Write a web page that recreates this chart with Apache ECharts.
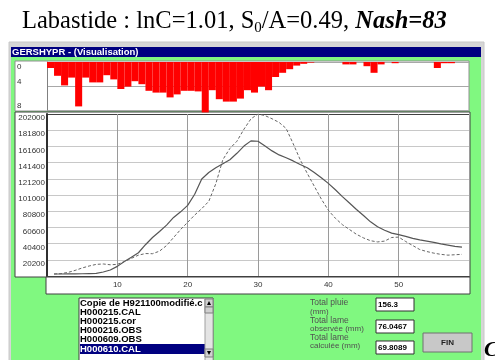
<!DOCTYPE html>
<html>
<head>
<meta charset="utf-8">
<title>GERSHYPR</title>
<script src="https://cdn.jsdelivr.net/npm/echarts@6/dist/echarts.min.js"></script>
<style>
  html, body { margin: 0; padding: 0; background: #fff; }
  #chart { width: 495px; height: 360px; }
</style>
</head>
<body>
<div id="chart"></div>
<script>
// time steps (hours)
var hours = [1,2,3,4,5,6,7,8,9,10,11,12,13,14,15,16,17,18,19,20,
             21,22,23,24,25,26,27,28,29,30,31,32,33,34,35,36,37,38,39,40,
             41,42,43,44,45,46,47,48,49,50,51,52,53,54,55,56,57,58,59,60];

// rainfall (mm) per step
var rain = [1.0,2.3,3.9,2.6,7.4,2.6,3.4,3.4,2.2,2.9,
            4.5,4.1,3.2,3.7,4.8,5.1,5.1,5.9,5.4,4.8,
            4.8,4.9,8.4,4.7,6.2,6.6,6.6,6.1,4.7,5.1,
            4.1,4.7,2.5,1.8,1.2,0.6,0.3,0.1,0,0,
            0,0,0.4,0.4,0,0.7,1.8,0.4,0,0.2,
            0,0,0,0,0,1.0,0.2,0.2,0,0];

// calculated discharge (solid)
var calcFlow = [2500,2500,2600,2700,2800,3000,3200,5000,7500,12000,
                18000,23500,29000,39000,48000,55500,63500,73000,80000,88000,
                102000,121000,129000,135000,140000,145000,153000,162000,168500,168000,
                162000,156000,151000,147500,143500,139000,135000,129000,122500,115500,
                107500,99000,91000,83000,75500,67500,61500,57000,53500,51500,
                49500,47000,45000,43500,42000,40000,38500,37000,36000];

// observed discharge (dashed)
var obsFlow = [2500,3000,4500,7000,10000,12500,14500,15000,14000,14500,
               18000,22000,26000,28000,27800,31000,38000,48000,58000,67000,
               76000,84000,93000,115000,145000,159000,168000,183000,196000,202000,
               200000,196000,191500,184000,165000,145000,128000,112000,96000,82000,
               72000,64000,58000,52000,47500,44000,42500,43500,48000,48500,
               43000,38000,33000,30500,28500,27000,26000,26500,27000];

var files = ['Copie de H921100modifié.c', 'H000215.CAL', 'H000215.cor',
             'H000216.OBS', 'H000609.OBS', 'H000610.CAL'];
var totalLabels = [['Total pluie', '(mm)'], ['Total lame', 'observée (mm)'], ['Total lame', 'calculée (mm)']];
var totalValues = ['156.3', '76.0467', '69.8089'];

var SANS = '"Liberation Sans", Arial, sans-serif';

function pairs(vals){
  var out = [];
  for (var i = 0; i < vals.length; i++) out.push([hours[i], vals[i]]);
  return out;
}

// window chrome, list box, fields, button
var g = [];
g.push({type: 'rect', z: -5, shape: {x: 9, y: 42, width: 475, height: 320}, style: {fill: '#d6d6d6', stroke: '#c8c8c8'}});
g.push({type: 'rect', z: -4, shape: {x: 11, y: 47, width: 470, height: 10}, style: {fill: '#000080'}});
g.push({type: 'text', z: -3, style: {text: 'GERSHYPR - (Visualisation)', x: 12, y: 52, verticalAlign: 'middle', font: 'bold 9.5px ' + SANS, fill: '#fff'}});
g.push({type: 'rect', z: -4, shape: {x: 11, y: 57, width: 470, height: 305}, style: {fill: '#80f880'}});
g.push({type: 'rect', z: -3, shape: {x: 15, y: 61, width: 454, height: 50}, style: {fill: '#fff', stroke: '#909090'}});
g.push({type: 'rect', z: -3, shape: {x: 15, y: 112, width: 455, height: 165}, style: {fill: '#fff', stroke: '#404040'}});
g.push({type: 'rect', z: -3, shape: {x: 46, y: 277, width: 424, height: 17}, style: {fill: '#fff', stroke: '#404040'}});

// list box
g.push({type: 'rect', shape: {x: 79, y: 298, width: 134, height: 64}, style: {fill: '#fff', stroke: '#404040'}});
g.push({type: 'rect', shape: {x: 80, y: 344, width: 125, height: 10}, style: {fill: '#000080'}});
for (var i = 0; i < files.length; i++){
  g.push({type: 'text', style: {text: files[i], x: 80, y: 303 + i * 9.2, verticalAlign: 'middle',
          font: 'bold 9.5px ' + SANS, fill: i === 5 ? '#fff' : '#000'}});
}
g.push({type: 'rect', shape: {x: 205, y: 299, width: 8, height: 62}, style: {fill: '#e4e4e4', stroke: '#a0a0a0'}});
g.push({type: 'rect', shape: {x: 205, y: 299, width: 8, height: 8}, style: {fill: '#d0d0d0', stroke: '#808080'}});
g.push({type: 'polygon', shape: {points: [[207, 305], [211, 305], [209, 301]]}, style: {fill: '#000'}});
g.push({type: 'rect', shape: {x: 205, y: 307, width: 8, height: 6}, style: {fill: '#d0d0d0', stroke: '#808080'}});
g.push({type: 'rect', shape: {x: 205, y: 349, width: 8, height: 8}, style: {fill: '#d0d0d0', stroke: '#808080'}});
g.push({type: 'polygon', shape: {points: [[207, 351], [211, 351], [209, 355]]}, style: {fill: '#000'}});

// totals
var boxTops = [298, 320, 341];
for (var k = 0; k < 3; k++){
  var yy = 303 + k * 17.2;
  g.push({type: 'text', style: {text: totalLabels[k][0], x: 310, y: yy, verticalAlign: 'middle', font: '8.5px ' + SANS, fill: '#505050'}});
  g.push({type: 'text', style: {text: totalLabels[k][1], x: 310, y: yy + 8.5, verticalAlign: 'middle', font: '8px ' + SANS, fill: '#505050'}});
  g.push({type: 'rect', shape: {x: 376, y: boxTops[k], width: 38, height: 13}, style: {fill: '#fff', stroke: '#303030'}});
  g.push({type: 'text', style: {text: totalValues[k], x: 378, y: boxTops[k] + 6.5, verticalAlign: 'middle', font: 'bold 8px ' + SANS, fill: '#000'}});
}

// FIN button
g.push({type: 'rect', shape: {x: 423, y: 333, width: 49, height: 19}, style: {fill: '#c8c8c8', stroke: '#707070'}});
g.push({type: 'text', style: {text: 'FIN', x: 447.5, y: 342.5, align: 'center', verticalAlign: 'middle', font: 'bold 8px ' + SANS, fill: '#202020'}});
g.push({type: 'text', style: {text: 'C', x: 484, y: 350, verticalAlign: 'middle', font: 'italic bold 22px "Liberation Serif", serif', fill: '#000'}});

var splitColors = ['#c8c8c8','#c8c8c8','#c8c8c8','#c8c8c8','#c8c8c8','#c8c8c8',
                   '#c8c8c8','#c8c8c8','#c8c8c8','#c8c8c8','#404040'];

var chart = echarts.init(document.getElementById('chart'));
chart.setOption({
  animation: false,
  backgroundColor: '#fff',
  title: {
    text: 'Labastide : lnC=1.01, S{sub|0}/A=0.49, {b|Nash=83}',
    left: 17, top: 3,
    textStyle: {
      fontFamily: '"Liberation Serif", serif', fontSize: 24.5, fontWeight: 'normal', color: '#000', lineHeight: 28,
      rich: {
        sub: {fontFamily: '"Liberation Serif", serif', fontSize: 15, lineHeight: 15, verticalAlign: 'bottom', color: '#000'},
        b: {fontFamily: '"Liberation Serif", serif', fontSize: 24.5, fontWeight: 'bold', fontStyle: 'italic', color: '#000'}
      }
    }
  },
  graphic: g,
  grid: [
    {left: 47, top: 62, width: 422, height: 48},
    {left: 47, top: 114, width: 422, height: 162}
  ],
  xAxis: [
    {type: 'category', gridIndex: 0, data: hours, boundaryGap: true,
     axisLine: {show: false}, axisTick: {show: false}, axisLabel: {show: false}, splitLine: {show: false}},
    {type: 'value', gridIndex: 1, min: 0, max: 60, interval: 10,
     axisLine: {show: true, lineStyle: {color: '#404040', width: 1}},
     axisTick: {show: false},
     axisLabel: {fontSize: 8, color: '#333', fontFamily: SANS, margin: 5,
                 formatter: function(v){ return (v > 0 && v < 60) ? v : ''; }},
     splitLine: {show: true, lineStyle: {color: '#9a9a9a', width: 1}}}
  ],
  yAxis: [
    {type: 'value', gridIndex: 0, inverse: true, min: 0, max: 8, interval: 4,
     axisLine: {show: true, lineStyle: {color: '#808080'}},
     axisTick: {show: false},
     axisLabel: {margin: 30, align: 'left', color: '#333',
                 formatter: function(v){ return v === 0 ? '{t|0}' : '{b|' + v + '}'; },
                 rich: {t: {fontSize: 8, fontFamily: SANS, color: '#333', padding: [10, 0, 0, 0]},
                        b: {fontSize: 8, fontFamily: SANS, color: '#333', padding: [0, 0, 8, 0]}}},
     splitLine: {show: true, lineStyle: {color: '#a8a8a8'}}},
    {type: 'value', gridIndex: 1, min: 0, max: 202000, interval: 20200,
     axisLine: {show: true, lineStyle: {color: '#303030', width: 2}},
     axisTick: {show: false},
     axisLabel: {fontSize: 8, color: '#333', fontFamily: SANS, margin: 2, verticalAlign: 'top',
                 formatter: function(v){ return v === 0 ? '' : v; }},
     splitLine: {show: true, lineStyle: {color: splitColors, width: 1}}}
  ],
  series: [
    {name: 'Pluie', type: 'bar', xAxisIndex: 0, yAxisIndex: 0, data: rain,
     barCategoryGap: '0%', clip: false, itemStyle: {color: '#ff0000'}},
    {name: 'Calculé', type: 'line', xAxisIndex: 1, yAxisIndex: 1, data: pairs(calcFlow),
     symbol: 'none', lineStyle: {color: '#555', width: 1.2}},
    {name: 'Observé', type: 'line', xAxisIndex: 1, yAxisIndex: 1, data: pairs(obsFlow),
     symbol: 'none', lineStyle: {color: '#666', width: 1, type: [3, 2]}}
  ]
});
</script>
</body>
</html>
